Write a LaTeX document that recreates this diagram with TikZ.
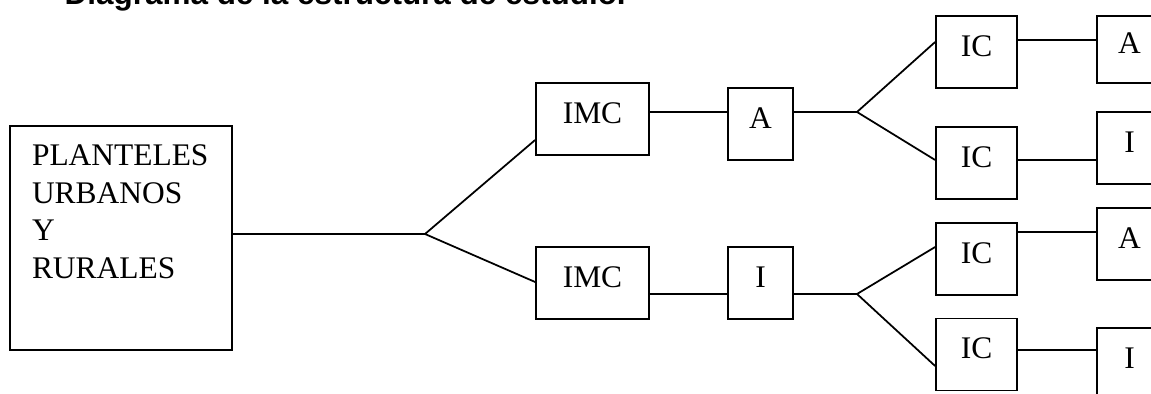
\documentclass[tikz,border=0pt]{standalone}
\usepackage{fontspec}
\setmainfont{Liberation Serif}
\newfontfamily\titlefont{Liberation Sans}
\usetikzlibrary{calc}

\begin{document}
\begin{tikzpicture}[x=0.02cm,y=-0.02cm,line width=1pt,
	box/.style={draw,inner sep=0,text height=0.42cm,text depth=0.24cm,minimum height=1.44cm,font=\fontsize{17.9}{21.3}\selectfont},
	imcbox/.style={box,minimum width=2.26cm},
	letterbox/.style={box,minimum width=1.3cm},
	icbox/.style={box,minimum width=1.62cm}]
	\useasboundingbox (0,0) rectangle (1151,394);
	\node[anchor=base west,font=\titlefont\bfseries\fontsize{17.9}{21.3}\selectfont] (title) at (58,5) {Diagrama de la estructura de estudio.};
	\node[box,align=left,text width=3.56cm,minimum width=4.44cm,minimum height=4.48cm,text depth=3.31cm] (plant) at (121,238) {PLANTELES\\URBANOS\\Y\\RURALES};
	\node[imcbox] (imc1) at (592.5,119) {IMC};
	\node[imcbox] (imc2) at (592.5,283) {IMC};
	\node[letterbox] (a1) at (760.5,124) {A};
	\node[letterbox] (i1) at (760.5,283) {I};
	\node[icbox] (ic1) at (976.5,52) {IC};
	\node[icbox] (ic2) at (976.5,163) {IC};
	\node[icbox] (ic3) at (976.5,259) {IC};
	\node[icbox] (ic4) at (976.5,354.5) {IC};
	\node[letterbox,minimum height=1.34cm] (ra1) at (1129.5,49.5) {A};
	\node[letterbox] (ri2) at (1129.5,148) {I};
	\node[letterbox] (ra3) at (1129.5,244) {A};
	\node[letterbox] (ri4) at (1129.5,364) {I};
	\coordinate (fork0) at (425,234);
	\coordinate (fork1) at (857,112);
	\coordinate (fork2) at (857,294);
	% first split
	\draw (plant.east |- fork0) -- (fork0);
	\draw (imc1.west |- 0,140) -- (fork0) -- (imc2.west |- 0,282);
	\draw (imc1.east |- 0,112) -- (a1.west |- 0,112);
	\draw (imc2.east |- 0,294) -- (i1.west |- 0,294);
	% upper branch
	\draw (a1.east |- fork1) -- (fork1);
	\draw (ic1.west |- 0,42) -- (fork1) -- (ic2.west |- 0,160);
	\draw (ic1.east |- 0,40) -- (ra1.west |- 0,40);
	\draw (ic2.east |- 0,160) -- (ri2.west |- 0,160);
	% lower branch
	\draw (i1.east |- fork2) -- (fork2);
	\draw (ic3.west |- 0,247) -- (fork2) -- (ic4.west |- 0,366);
	\draw (ic3.east |- 0,232) -- (ra3.west |- 0,232);
	\draw (ic4.east |- 0,350) -- (ri4.west |- 0,350);
\end{tikzpicture}
\end{document}
